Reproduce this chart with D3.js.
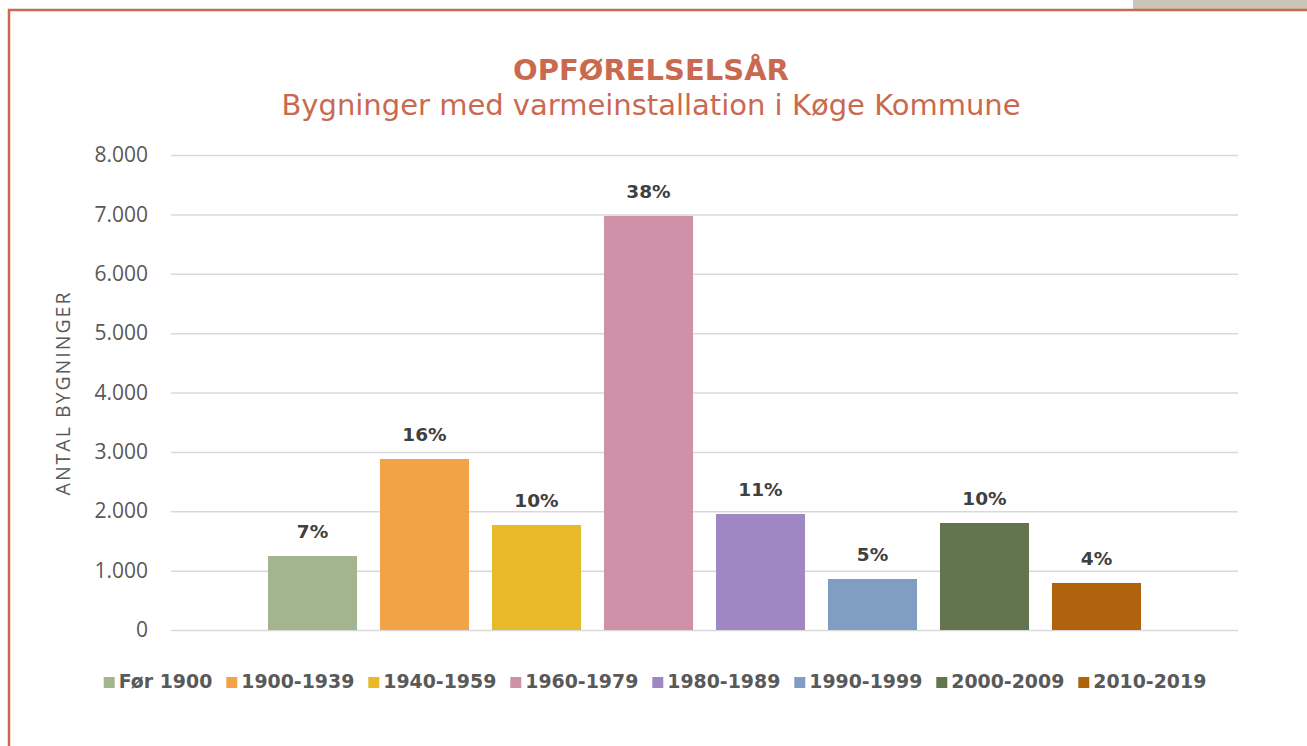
<!DOCTYPE html>
<html>
<head>
<meta charset="utf-8">
<script src="https://cdn.jsdelivr.net/npm/d3@7"></script>
<style>
  html, body { margin: 0; padding: 0; background: #fff; }
  svg { display: block; }
</style>
</head>
<body>
<div id="chart"></div>
<script>
var categories = ["Før 1900", "1900-1939", "1940-1959", "1960-1979",
  "1980-1989", "1990-1999", "2000-2009", "2010-2019"];
var buildings = [1246, 2880, 1768, 6973, 1954, 859, 1802, 792];
var colors = ["#a3b58f", "#f2a345", "#e8ba2a", "#cf91a7",
  "#9e87c2", "#7f9ec2", "#62754e", "#b0620c"];
var yTicks = [0, 1000, 2000, 3000, 4000, 5000, 6000, 7000, 8000];

var W = 1307, H = 746;
var accent = "#c96a50";

var svg = d3.select("#chart").append("svg")
  .attr("width", W)
  .attr("height", H);

// page frame
svg.append("rect")
  .attr("x", 1133).attr("y", 0)
  .attr("width", W - 1133).attr("height", 9)
  .attr("fill", "#cbc5b7");
svg.append("line")
  .attr("x1", 8).attr("x2", W)
  .attr("y1", 10).attr("y2", 10)
  .attr("stroke", accent).attr("stroke-width", 2.5);
svg.append("line")
  .attr("x1", 9).attr("x2", 9)
  .attr("y1", 9).attr("y2", H)
  .attr("stroke", accent).attr("stroke-width", 2.5);

// titles
svg.append("text")
  .attr("x", 651).attr("y", 80)
  .attr("text-anchor", "middle")
  .style("font-family", "DejaVu Sans")
  .style("font-weight", "bold")
  .style("font-size", "29px")
  .attr("fill", accent)
  .text("OPFØRELSELSÅR");
svg.append("text")
  .attr("x", 651).attr("y", 115)
  .attr("text-anchor", "middle")
  .style("font-family", "DejaVu Sans")
  .style("font-size", "29px")
  .attr("fill", accent)
  .text("Bygninger med varmeinstallation i Køge Kommune");

var x = d3.scaleBand()
  .domain(categories)
  .range([171, 1238])
  .paddingInner(0.205)
  .paddingOuter(0.866);

var y = d3.scaleLinear()
  .domain([0, 8000])
  .range([630, 155]);

var locale = d3.formatLocale({decimal: ",", thousands: ".", grouping: [3], currency: ["", " kr"]});
var fmt = locale.format(",d");
var total = d3.sum(buildings);
var pct = d3.format(".0%");

// grid + y axis
var yAxis = svg.append("g")
  .attr("transform", "translate(171,0)")
  .call(d3.axisLeft(y).tickValues(yTicks).tickFormat(fmt)
    .tickSize(-(1238 - 171)).tickPadding(23));
yAxis.select(".domain").remove();
yAxis.selectAll(".tick line")
  .attr("stroke", "#d9d9d9")
  .attr("stroke-width", 1.5);
yAxis.selectAll(".tick text")
  .attr("fill", "#595959")
  .style("font-family", "Open Sans")
  .style("font-size", "21px");

svg.append("text")
  .attr("transform", "translate(70,393) rotate(-90)")
  .attr("text-anchor", "middle")
  .style("font-family", "Open Sans")
  .style("font-size", "19.5px")
  .style("letter-spacing", "2px")
  .attr("fill", "#595959")
  .text("ANTAL BYGNINGER");

// bars
var rows = categories.map(function(c, i){
  return {cat: c, val: buildings[i], col: colors[i]};
});

svg.append("g").selectAll("rect")
  .data(rows).enter().append("rect")
  .attr("x", function(d){ return x(d.cat); })
  .attr("y", function(d){ return y(d.val); })
  .attr("width", x.bandwidth())
  .attr("height", function(d){ return y(0) - y(d.val); })
  .attr("fill", function(d){ return d.col; });

svg.append("g").selectAll("text")
  .data(rows).enter().append("text")
  .attr("x", function(d){ return x(d.cat) + x.bandwidth() / 2; })
  .attr("y", function(d){ return y(d.val) - 18; })
  .attr("text-anchor", "middle")
  .style("font-family", "DejaVu Sans")
  .style("font-weight", "bold")
  .style("font-size", "18.5px")
  .attr("fill", "#404040")
  .text(function(d){ return pct(d.val / total); });

// legend, laid out left to right then centred
var leg = svg.append("g");
var cx = 0;
rows.forEach(function(d){
  var g = leg.append("g").attr("transform", "translate(" + cx + ",0)");
  g.append("rect")
    .attr("x", 0).attr("y", -11)
    .attr("width", 11).attr("height", 11)
    .attr("fill", d.col);
  var t = g.append("text")
    .attr("x", 15).attr("y", 0)
    .style("font-family", "DejaVu Sans")
    .style("font-weight", "bold")
    .style("font-size", "18.9px")
    .attr("fill", "#595959")
    .text(d.cat);
  cx += 15 + t.node().getComputedTextLength() + 14;
});
var legW = cx - 14;
leg.attr("transform", "translate(" + (655 - legW / 2) + ",688)");
</script>
</body>
</html>
